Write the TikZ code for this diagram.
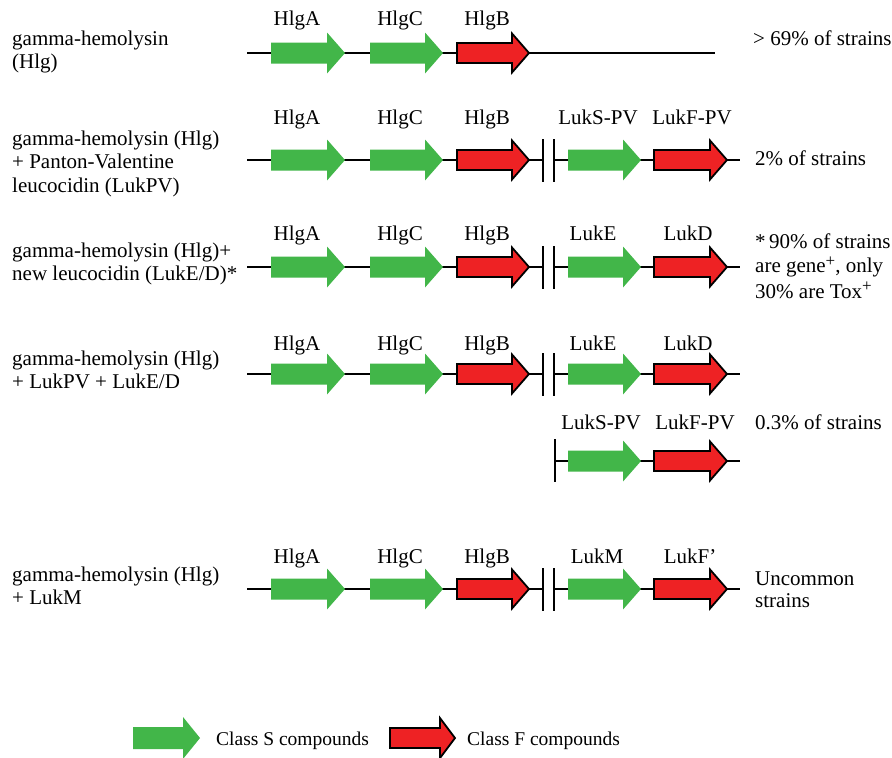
\documentclass[tikz,border=0pt]{standalone}
\usepackage{fontspec}
\setmainfont{Liberation Serif}
\definecolor{sgreen}{RGB}{66,182,73}
\definecolor{fred}{RGB}{238,34,36}
\newcommand\fsz{\fontsize{21}{24}\selectfont}
\newcommand\legfsz{\fontsize{19.5}{23}\selectfont}
\newcommand\supplus{\smash{\raisebox{0.3em}{\fontsize{17}{17}\selectfont +}}}
% green (class S) gene: x, y, length, head length
\newcommand\GeneS[4]{\fill[sfill] (#1,#2-10.5) -- (#1+#3-#4,#2-10.5) -- (#1+#3-#4,#2-20.5) -- (#1+#3,#2) -- (#1+#3-#4,#2+20.5) -- (#1+#3-#4,#2+10.5) -- (#1,#2+10.5) -- cycle;}
% red (class F) gene
\newcommand\GeneF[4]{\filldraw[ffill] (#1+1,#2-10) -- (#1+#3-#4,#2-10) -- (#1+#3-#4,#2-19.5) -- (#1+#3-1,#2) -- (#1+#3-#4,#2+19.5) -- (#1+#3-#4,#2+10) -- (#1+1,#2+10) -- cycle;}
\tikzset{
  sfill/.style={fill=sgreen},
  ffill/.style={fill=fred,draw=black,line width=1.8pt,line join=miter},
  backbone/.style={draw=black,line width=1.2pt},
  brk/.style={draw=black,line width=1.2pt},
  txt/.style={anchor=base west,inner sep=0pt,font=\fsz},
  lab/.style={anchor=base,inner sep=0pt,font=\fsz},
  legtxt/.style={anchor=base west,inner sep=0pt,font=\legfsz},
}
\begin{document}
\begin{tikzpicture}[x=1pt,y=-1pt]
\useasboundingbox (0,0) rectangle (892,758);
\fill[white] (0,0) rectangle (892,758);

% ---------- row 1 ----------
\node[txt] (t1a) at (12,45) {gamma-hemolysin};
\node[txt] (t1b) at (12,68.5) {(Hlg)};
\coordinate (r1s) at (247,53); \coordinate (r1e) at (715,53);
\draw[backbone] (r1s) -- (r1e);
\GeneS{271}{53}{74}{18}
\GeneS{370}{53}{73}{18}
\GeneF{456}{53}{74}{18}
\node[lab] (h1a) at (297,25) {HlgA};
\node[lab] (h1c) at (400,25) {HlgC};
\node[lab] (h1b) at (487,25) {HlgB};
\node[txt] (p1) at (753,45) {> 69\% of strains};

% ---------- row 2 ----------
\node[txt] (t2a) at (12,145) {gamma-hemolysin (Hlg)};
\node[txt] (t2b) at (12,168.5) {+ Panton-Valentine};
\node[txt] (t2c) at (12,192) {leucocidin (LukPV)};
\coordinate (r2s) at (247,160); \coordinate (r2m) at (543,160);
\coordinate (r2n) at (554,160); \coordinate (r2e) at (740,160);
\draw[backbone] (r2s) -- (r2m);
\draw[backbone] (r2n) -- (r2e);
\draw[brk] (543,139) -- (543,182);
\draw[brk] (554,139) -- (554,182);
\GeneS{271}{160}{74}{18}
\GeneS{370}{160}{73}{18}
\GeneF{456}{160}{74}{18}
\GeneS{568}{160}{73}{18}
\GeneF{653}{160}{75}{18}
\node[lab] (h2a) at (297,124) {HlgA};
\node[lab] (h2c) at (400,124) {HlgC};
\node[lab] (h2b) at (487,124) {HlgB};
\node[lab] (h2s) at (598,124) {LukS-PV};
\node[lab] (h2f) at (692,124) {LukF-PV};
\node[txt] (p2) at (755,165) {2\% of strains};

% ---------- row 3 ----------
\node[txt] (t3a) at (12,257) {gamma-hemolysin (Hlg)+};
\node[txt] (t3b) at (12,280.5) {new leucocidin (LukE/D)*};
\coordinate (r3s) at (247,267); \coordinate (r3m) at (543,267);
\coordinate (r3n) at (554,267); \coordinate (r3e) at (740,267);
\draw[backbone] (r3s) -- (r3m);
\draw[backbone] (r3n) -- (r3e);
\draw[brk] (543,246) -- (543,289);
\draw[brk] (554,246) -- (554,289);
\GeneS{271}{267}{74}{18}
\GeneS{370}{267}{73}{18}
\GeneF{456}{267}{74}{18}
\GeneS{568}{267}{73}{18}
\GeneF{653}{267}{75}{18}
\node[lab] (h3a) at (297,240) {HlgA};
\node[lab] (h3c) at (400,240) {HlgC};
\node[lab] (h3b) at (487,240) {HlgB};
\node[lab] (h3s) at (593,240) {LukE};
\node[lab] (h3f) at (688,240) {LukD};
\node[txt] (p3a) at (755,248) {*\,90\% of strains};
\node[txt] (p3b) at (755,272.5) {are gene\supplus, only};
\node[txt] (p3c) at (755,298) {30\% are Tox\supplus};

% ---------- row 4 ----------
\node[txt] (t4a) at (12,365) {gamma-hemolysin (Hlg)};
\node[txt] (t4b) at (12,388.5) {+ LukPV + LukE/D};
\coordinate (r4s) at (247,374); \coordinate (r4m) at (543,374);
\coordinate (r4n) at (554,374); \coordinate (r4e) at (740,374);
\draw[backbone] (r4s) -- (r4m);
\draw[backbone] (r4n) -- (r4e);
\draw[brk] (543,353) -- (543,396);
\draw[brk] (554,353) -- (554,396);
\GeneS{271}{374}{74}{18}
\GeneS{370}{374}{73}{18}
\GeneF{456}{374}{74}{18}
\GeneS{568}{374}{73}{18}
\GeneF{653}{374}{75}{18}
\node[lab] (h4a) at (297,350) {HlgA};
\node[lab] (h4c) at (400,350) {HlgC};
\node[lab] (h4b) at (487,350) {HlgB};
\node[lab] (h4s) at (593,350) {LukE};
\node[lab] (h4f) at (688,350) {LukD};

% ---------- row 4b ----------
\coordinate (r5n) at (555,461); \coordinate (r5e) at (740,461);
\draw[backbone] (r5n) -- (r5e);
\draw[brk] (555,439) -- (555,482);
\GeneS{568}{461}{73}{18}
\GeneF{653}{461}{75}{18}
\node[lab] (h5s) at (601,429) {LukS-PV};
\node[lab] (h5f) at (695,429) {LukF-PV};
\node[txt] (p5) at (755,429) {0.3\% of strains};

% ---------- row 5 ----------
\node[txt] (t6a) at (12,581) {gamma-hemolysin (Hlg)};
\node[txt] (t6b) at (12,604.5) {+ LukM};
\coordinate (r6s) at (247,589); \coordinate (r6m) at (543,589);
\coordinate (r6n) at (554,589); \coordinate (r6e) at (740,589);
\draw[backbone] (r6s) -- (r6m);
\draw[backbone] (r6n) -- (r6e);
\draw[brk] (543,568) -- (543,611);
\draw[brk] (554,568) -- (554,611);
\GeneS{271}{589}{74}{18}
\GeneS{370}{589}{73}{18}
\GeneF{456}{589}{74}{18}
\GeneS{568}{589}{73}{18}
\GeneF{653}{589}{75}{18}
\node[lab] (h6a) at (297,563) {HlgA};
\node[lab] (h6c) at (400,563) {HlgC};
\node[lab] (h6b) at (487,563) {HlgB};
\node[lab] (h6s) at (597,563) {LukM};
\node[lab] (h6f) at (690,563) {LukF'};
\node[txt] (p6a) at (755,585) {Uncommon};
\node[txt] (p6b) at (755,607) {strains};

% ---------- legend ----------
\fill[sfill] (133,727) -- (183,727) -- (183,717) -- (200,738) -- (183,759) -- (183,749) -- (133,749) -- cycle;
\filldraw[ffill] (390,728) -- (440,728) -- (440,718) -- (455,738) -- (440,758) -- (440,748) -- (390,748) -- cycle;
\node[legtxt] (legS) at (216,745) {Class S compounds};
\node[legtxt] (legF) at (467,745) {Class F compounds};
\end{tikzpicture}
\end{document}
